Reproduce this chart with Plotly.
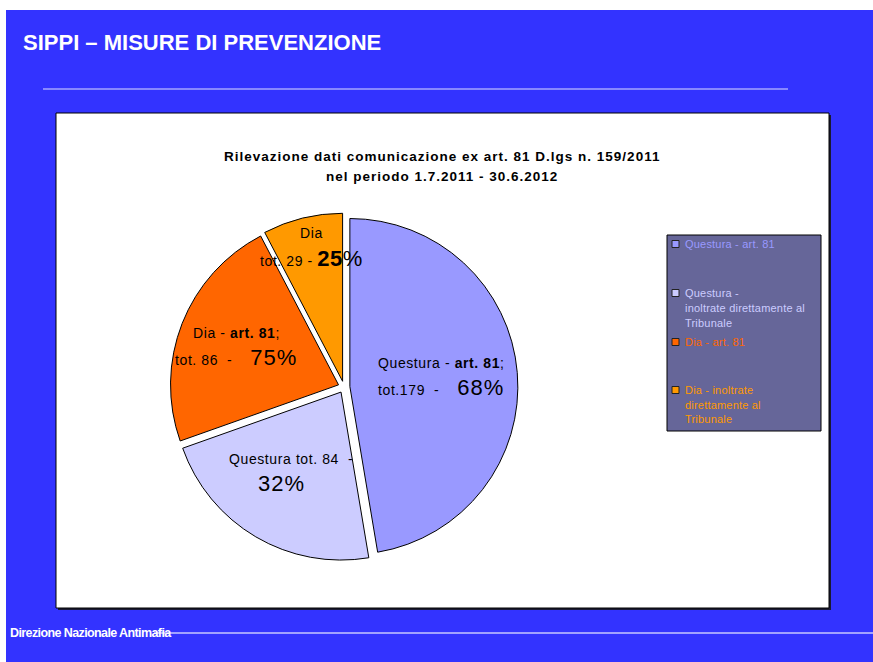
import math
import plotly.graph_objects as go

# ---------------- data ----------------
slice_names = ["Questura - art. 81",
               "Questura - inoltrate direttamente al Tribunale",
               "Dia - art. 81",
               "Dia - inoltrate direttamente al Tribunale"]
slice_values = [179, 84, 86, 29]
slice_percents = ["68%", "32%", "75%", "25%"]
slice_colors = ["#9999FF", "#CCCCFF", "#FF6600", "#FF9900"]
legend_lines = [["Questura - art. 81"],
                ["Questura -", "inoltrate direttamente al", "Tribunale"],
                ["Dia - art. 81"],
                ["Dia - inoltrate", "direttamente al", "Tribunale"]]
slide_title = "SIPPI \u2013 MISURE DI PREVENZIONE"
chart_title = ["Rilevazione dati comunicazione ex art. 81 D.lgs n. 159/2011",
               "nel periodo 1.7.2011 - 30.6.2012"]
footer_text = "Direzione Nazionale Antimafia"

# ---------------- layout constants ----------------
W, H = 873, 662
FONT = "Liberation Sans, Arial, Helvetica, sans-serif"
BLUE = "#3333FF"
PIE_CX, PIE_CY, PIE_R, PULL = 344, 387, 168, 0.035
LABEL_FRAC = [0.58, 0.58, 0.69, 0.87]
LABEL_DX = [0, -4, 0, 2]
LABEL_DY = [-4, 0, 0, 0]
LINE2_DX = [0, -9, 0, 0]


def X(px):
    return px / W


def Y(py):
    return 1 - py / H


def sp(text, ls, size=None):
    st = "letter-spacing:%spx" % ls
    if size:
        st += ";font-size:%spx" % size
    return "<span style='%s'>%s</span>" % (st, text)


half = PIE_R * (1 + PULL)
fig = go.Figure()
fig.add_trace(go.Pie(
    labels=slice_names, values=slice_values, sort=False,
    direction="clockwise", rotation=0, pull=[PULL] * 4,
    marker=dict(colors=slice_colors, line=dict(color="#000000", width=1)),
    textinfo="none", hoverinfo="label+value", showlegend=False,
    domain=dict(x=[X(PIE_CX - half), X(PIE_CX + half)],
                y=[Y(PIE_CY + half), Y(PIE_CY - half)]),
))

shapes = []
shapes.append(dict(type="rect", xref="paper", yref="paper", x0=X(6), x1=X(873), y0=Y(662), y1=Y(10),
                   fillcolor=BLUE, line=dict(width=0), layer="below"))
shapes.append(dict(type="line", xref="paper", yref="paper", x0=X(43), x1=X(788), y0=Y(89), y1=Y(89),
                   line=dict(color="#A6A6FF", width=1.5), layer="below"))
shapes.append(dict(type="line", xref="paper", yref="paper", x0=X(154), x1=X(873), y0=Y(633), y1=Y(633),
                   line=dict(color="#C8C8FF", width=1.5), layer="below"))
shapes.append(dict(type="rect", xref="paper", yref="paper", x0=X(58), x1=X(831), y0=Y(610), y1=Y(115),
                   fillcolor="#1a1a33", line=dict(width=0), layer="below"))
shapes.append(dict(type="rect", xref="paper", yref="paper", x0=X(56), x1=X(829), y0=Y(608), y1=Y(113),
                   fillcolor="#FFFFFF", line=dict(color="#000000", width=1), layer="below"))
shapes.append(dict(type="rect", xref="paper", yref="paper", x0=X(667), x1=X(821), y0=Y(431), y1=Y(235),
                   fillcolor="#666699", line=dict(color="#000000", width=1), layer="below"))

annotations = []
annotations.append(dict(text="<b>" + slide_title + "</b>", xref="paper", yref="paper",
                        x=X(21), y=Y(42), xanchor="left", yanchor="middle", showarrow=False,
                        font=dict(family=FONT, size=22, color="#FFFFFF")))
annotations.append(dict(text="<b>" + sp(footer_text, -0.6) + "</b>", xref="paper", yref="paper",
                        x=X(8), y=Y(633), xanchor="left", yanchor="middle", showarrow=False,
                        font=dict(family=FONT, size=12.5, color="#FFFFFF")))
for i, line in enumerate(chart_title):
    annotations.append(dict(text="<b>" + sp(line, 1.0) + "</b>", xref="paper", yref="paper",
                            x=X(442), y=Y(157 + 19 * i), xanchor="center", yanchor="middle",
                            showarrow=False, font=dict(family=FONT, size=13.5, color="#000000")))

# legend entries
legend_line_y = [[244], [293, 308, 323], [342], [390, 405, 419]]
for i, lines in enumerate(legend_lines):
    y0 = legend_line_y[i][0]
    shapes.append(dict(type="rect", xref="paper", yref="paper", x0=X(672), x1=X(679),
                       y0=Y(y0 + 3.5), y1=Y(y0 - 3.5), fillcolor=slice_colors[i],
                       line=dict(color="#222222", width=1), layer="above"))
    for j, t in enumerate(lines):
        annotations.append(dict(text=sp(t, 0.2), xref="paper", yref="paper", x=X(683),
                                y=Y(legend_line_y[i][j]),
                                xanchor="left", yanchor="middle", showarrow=False,
                                font=dict(family=FONT, size=11, color=slice_colors[i])))

# slice labels
nb = "\u00a0"
BIG = 22
line1 = ["Questura - <b>art. 81</b>;",
         "Questura tot. %d %s-" % (slice_values[1], nb),
         "Dia - <b>art. 81</b>;",
         "Dia"]
line2 = ["tot.%d %s-%s%s" % (slice_values[0], nb, nb * 3, nb) + sp(slice_percents[0], 1, BIG),
         sp(slice_percents[1], 1, BIG),
         "tot. %d %s-%s%s" % (slice_values[2], nb, nb * 3, nb) + sp(slice_percents[2], 1, BIG),
         "tot. %d - " % slice_values[3] + "<b>" + sp(slice_percents[3][:-1], 0.5, BIG) + "</b>" +
         sp("%", 0.5, BIG)]
total = sum(slice_values)
cum = 0
for i, v in enumerate(slice_values):
    mid = (cum + v / 2) / total * 2 * math.pi
    cum += v
    d = LABEL_FRAC[i] * PIE_R
    lx = PIE_CX + d * math.sin(mid) + LABEL_DX[i]
    ly = PIE_CY - d * math.cos(mid) + LABEL_DY[i]
    annotations.append(dict(text=sp(line1[i], 0.6), xref="paper", yref="paper", x=X(lx), y=Y(ly - 12),
                            xanchor="center", yanchor="middle", showarrow=False,
                            font=dict(family=FONT, size=14, color="#000000")))
    annotations.append(dict(text=sp(line2[i], 0.6), xref="paper", yref="paper", x=X(lx + LINE2_DX[i]),
                            y=Y(ly + 13), xanchor="center", yanchor="middle", showarrow=False,
                            font=dict(family=FONT, size=14, color="#000000")))

fig.update_layout(width=W, height=H, autosize=False,
                  margin=dict(l=0, r=0, t=0, b=0, pad=0),
                  paper_bgcolor="#FFFFFF", plot_bgcolor="#FFFFFF",
                  shapes=shapes, annotations=annotations, showlegend=False)

fig.write_html("out.html", config={"displayModeBar": False},
               post_script="document.body.style.margin='0';")
